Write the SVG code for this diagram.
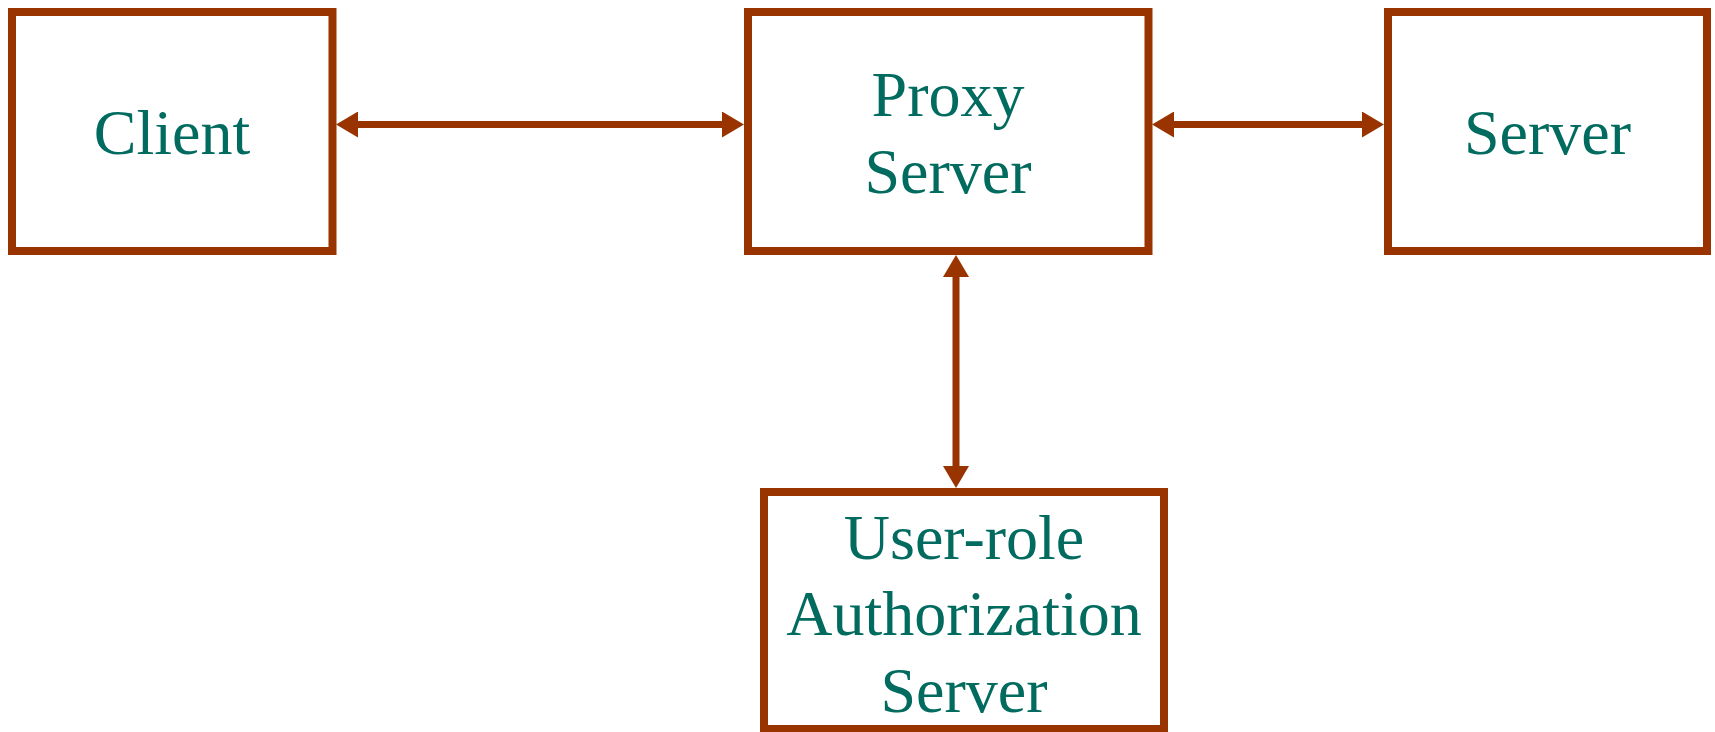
<svg xmlns="http://www.w3.org/2000/svg" width="1715" height="732" viewBox="0 0 1715 732">
<style>
.box{fill:#ffffff;stroke:#993300;stroke-width:8}
.lbl{font-family:"Liberation Serif","Times New Roman",serif;font-size:64px;fill:#006b5e;text-anchor:middle}
.conn{stroke:#993300;stroke-width:7;fill:none;marker-start:url(#ah);marker-end:url(#ah)}
</style>
<defs>
<marker id="ah" markerUnits="userSpaceOnUse" markerWidth="22" markerHeight="26" refX="0" refY="13" orient="auto-start-reverse" viewBox="0 0 22 26">
<path d="M0,0 L22,13 L0,26 Z" fill="#993300"/>
</marker>
</defs>
<rect width="1715" height="732" fill="#ffffff"/>
<g id="client">
<rect class="box" x="12" y="12" width="320.5" height="239"/>
<text class="lbl" x="172" y="154">Client</text>
</g>
<g id="proxy">
<rect class="box" x="748" y="12" width="400.5" height="239"/>
<text class="lbl" x="948" y="116">Proxy</text>
<text class="lbl" x="948" y="193">Server</text>
</g>
<g id="server">
<rect class="box" x="1388" y="12" width="319" height="239"/>
<text class="lbl" x="1547.5" y="154">Server</text>
</g>
<g id="auth">
<rect class="box" x="764" y="492" width="400" height="237"/>
<text class="lbl" x="964" y="559">User-role</text>
<text class="lbl" x="964" y="635">Authorization</text>
<text class="lbl" x="964" y="712">Server</text>
</g>
<g id="connectors">
<line class="conn" x1="358" y1="124.5" x2="722" y2="124.5"/>
<line class="conn" x1="1174" y1="124.5" x2="1362" y2="124.5"/>
<line class="conn" x1="956" y1="277" x2="956" y2="466"/>
</g>
</svg>
